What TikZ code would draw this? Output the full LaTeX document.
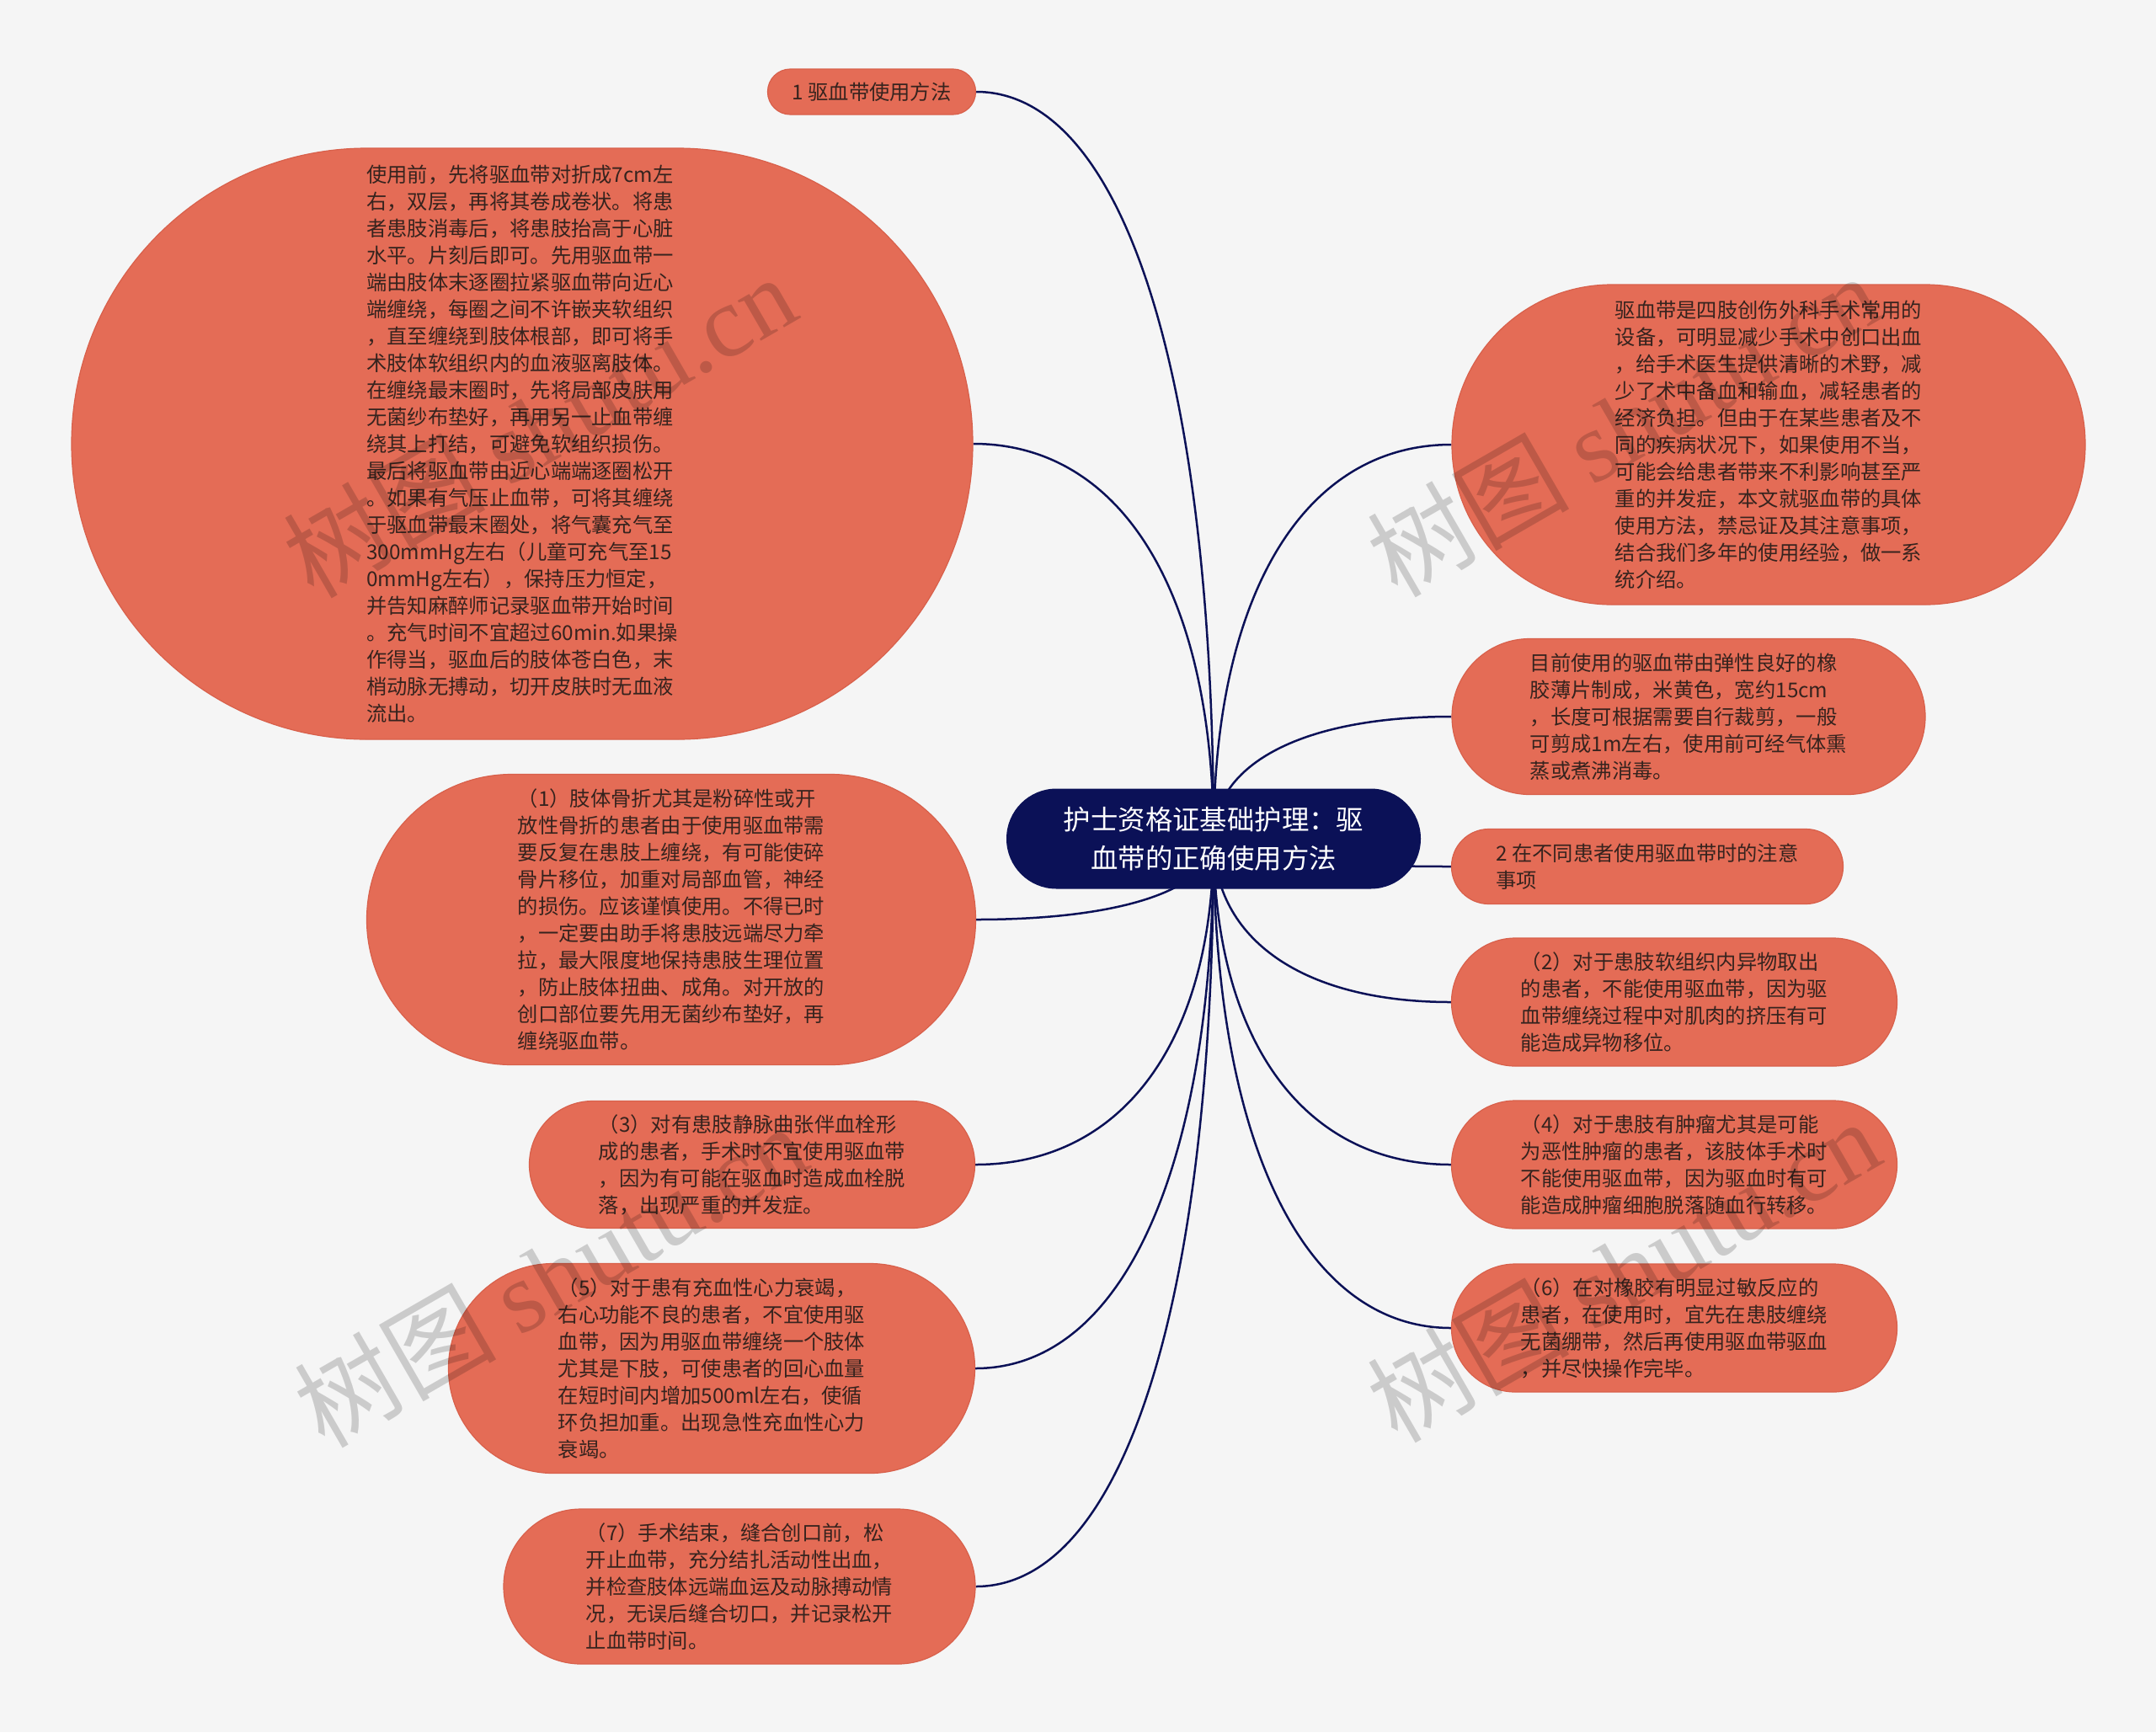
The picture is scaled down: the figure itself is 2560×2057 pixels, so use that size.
\documentclass[tikz,border=0pt]{standalone}
\usepackage{fontspec}
\newfontfamily\cjk{Noto Sans CJK SC}
\newfontfamily\wmser{Liberation Serif}
\usetikzlibrary{calc,backgrounds}
\definecolor{bgc}{HTML}{F5F5F5}
\definecolor{coral}{HTML}{E46C56}
\definecolor{coraledge}{HTML}{D8604B}
\definecolor{navy}{HTML}{0B1157}
\definecolor{txt}{HTML}{36231E}
\newcommand\linkto[1]{\draw[link] (root.center) .. controls ($(root.center)!0.62!(root.center |- #1)$) and ($(#1)!0.62!(#1 -| root.center)$) .. (#1);}
\begin{document}
\begin{tikzpicture}[x=0.5pt,y=-0.5pt,
  bubble/.style 2 args={draw=coraledge, line width=0.6pt, fill=coral,
    minimum width=#1pt, minimum height=#2pt, rounded corners={(#2/2-0.05)*1pt},
    inner sep=0pt, align=left, text=txt, font=\cjk\fontsize{12.15}{16}\selectfont},
  rootbox/.style={fill=navy, minimum width=246pt, minimum height=59.5pt,
    rounded corners=29.7pt, inner sep=0pt, align=center, text=white,
    font=\cjk\fontsize{16.2}{23}\selectfont},
  link/.style={draw=navy, line width=1.25pt},
  wm/.style={rotate=30, text=black, text opacity=0.17, inner sep=0pt,
    font=\fontsize{60}{60}\selectfont}]
\useasboundingbox (0,0) rectangle (2560,2057);

\node[rootbox] (root) at (1441,996) {护士资格证基础护理：驱\\血带的正确使用方法};

\node[bubble={123.5}{27}] (n1) at (1035,109) {1 驱血带使用方法};

\node[bubble={535}{351}] (big) at (620,527) {使用前，先将驱血带对折成7cm左\\
右，双层，再将其卷成卷状。将患\\
者患肢消毒后，将患肢抬高于心脏\\
水平。片刻后即可。先用驱血带一\\
端由肢体末逐圈拉紧驱血带向近心\\
端缠绕，每圈之间不许嵌夹软组织\\
，直至缠绕到肢体根部，即可将手\\
术肢体软组织内的血液驱离肢体。\\
在缠绕最末圈时，先将局部皮肤用\\
无菌纱布垫好，再用另一止血带缠\\
绕其上打结，可避免软组织损伤。\\
最后将驱血带由近心端端逐圈松开\\
。如果有气压止血带，可将其缠绕\\
于驱血带最末圈处，将气囊充气至\\
300mmHg左右（儿童可充气至15\\
0mmHg左右），保持压力恒定，\\
并告知麻醉师记录驱血带开始时间\\
。充气时间不宜超过60min.如果操\\
作得当，驱血后的肢体苍白色，末\\
梢动脉无搏动，切开皮肤时无血液\\
流出。};

\node[bubble={376}{190}] (rt) at (2100,528) {驱血带是四肢创伤外科手术常用的\\
设备，可明显减少手术中创口出血\\
，给手术医生提供清晰的术野，减\\
少了术中备血和输血，减轻患者的\\
经济负担。但由于在某些患者及不\\
同的疾病状况下，如果使用不当，\\
可能会给患者带来不利影响甚至严\\
重的并发症，本文就驱血带的具体\\
使用方法，禁忌证及其注意事项，\\
结合我们多年的使用经验，做一系\\
统介绍。};

\node[bubble={281}{92.5}] (r2) at (2005,851) {目前使用的驱血带由弹性良好的橡\\
胶薄片制成，米黄色，宽约15cm\\
，长度可根据需要自行裁剪，一般\\
可剪成1m左右，使用前可经气体熏\\
蒸或煮沸消毒。};

\node[bubble={232.5}{44.5}] (n2) at (1956,1029) {2 在不同患者使用驱血带时的注意\\事项};

\node[bubble={264.5}{76}] (p2) at (1988,1190) {（2）对于患肢软组织内异物取出\\
的患者，不能使用驱血带，因为驱\\
血带缠绕过程中对肌肉的挤压有可\\
能造成异物移位。};

\node[bubble={264.5}{76}] (p4) at (1988,1383) {（4）对于患肢有肿瘤尤其是可能\\
为恶性肿瘤的患者，该肢体手术时\\
不能使用驱血带，因为驱血时有可\\
能造成肿瘤细胞脱落随血行转移。};

\node[bubble={264.5}{76}] (p6) at (1988,1577) {（6）在对橡胶有明显过敏反应的\\
患者，在使用时，宜先在患肢缠绕\\
无菌绷带，然后再使用驱血带驱血\\
，并尽快操作完毕。};

\node[bubble={361.5}{172.5}] (p1) at (797,1092) {（1）肢体骨折尤其是粉碎性或开\\
放性骨折的患者由于使用驱血带需\\
要反复在患肢上缠绕，有可能使碎\\
骨片移位，加重对局部血管，神经\\
的损伤。应该谨慎使用。不得已时\\
，一定要由助手将患肢远端尽力牵\\
拉，最大限度地保持患肢生理位置\\
，防止肢体扭曲、成角。对开放的\\
创口部位要先用无菌纱布垫好，再\\
缠绕驱血带。};

\node[bubble={264.5}{75.5}] (p3) at (893,1383) {（3）对有患肢静脉曲张伴血栓形\\
成的患者，手术时不宜使用驱血带\\
，因为有可能在驱血时造成血栓脱\\
落，出现严重的并发症。};

\node[bubble={312.5}{124.5}] (p5) at (845,1625) {（5）对于患有充血性心力衰竭，\\
右心功能不良的患者，不宜使用驱\\
血带，因为用驱血带缠绕一个肢体\\
尤其是下肢，可使患者的回心血量\\
在短时间内增加500ml左右，使循\\
环负担加重。出现急性充血性心力\\
衰竭。};

\node[bubble={280}{92}] (p7) at (878,1884) {（7）手术结束，缝合创口前，松\\
开止血带，充分结扎活动性出血，\\
并检查肢体远端血运及动脉搏动情\\
况，无误后缝合切口，并记录松开\\
止血带时间。};

\begin{scope}[on background layer]
\fill[bgc] (0,0) rectangle (2560,2057);
\linkto{n1.east}
\linkto{big.east}
\linkto{p1.east}
\linkto{p3.east}
\linkto{p5.east}
\linkto{p7.east}
\linkto{rt.west}
\linkto{r2.west}
\linkto{n2.west}
\linkto{p2.west}
\linkto{p4.west}
\linkto{p6.west}
\end{scope}

\node[wm] (wm1) at (640,505) {\cjk 树图 \wmser shutu.cn};
\node[wm] (wm2) at (1927,504) {\cjk 树图 \wmser shutu.cn};
\node[wm] (wm3) at (653,1514) {\cjk 树图 \wmser shutu.cn};
\node[wm] (wm4) at (1927,1508) {\cjk 树图 \wmser shutu.cn};
\end{tikzpicture}
\end{document}
